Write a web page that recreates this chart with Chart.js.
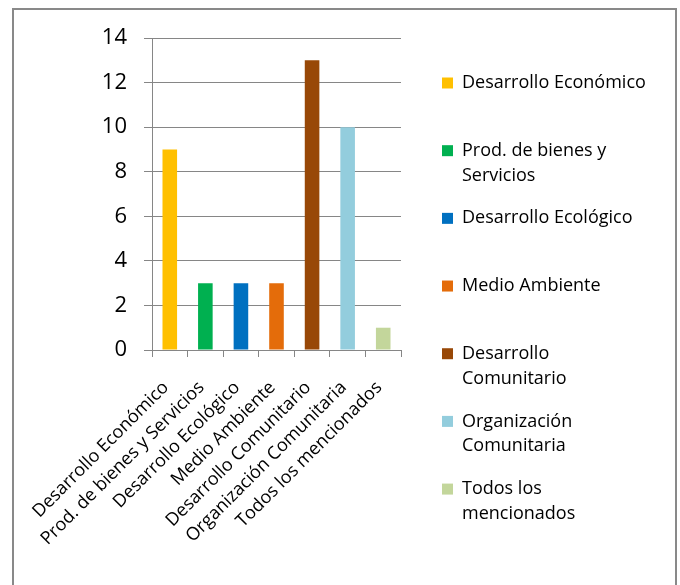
<!DOCTYPE html>
<html>
<head>
<meta charset="utf-8">
<script src="https://cdn.jsdelivr.net/npm/chart.js@4"></script>
<style>
  html, body { margin: 0; padding: 0; background: #fff; }
  #wrap { position: relative; width: 680px; height: 585px; overflow: hidden; }
  #frame { position: absolute; left: 12px; top: 8px; width: 661px; height: 640px; border: 2px solid #898989; }
  #chart { position: absolute; left: 0; top: 0; }
</style>
</head>
<body>
<div id="wrap">
  <div id="frame"></div>
  <canvas id="chart" width="680" height="585"></canvas>
</div>
<script>
const categories = ['Desarrollo Económico', 'Prod. de bienes y Servicios', 'Desarrollo Ecológico',
  'Medio Ambiente', 'Desarrollo Comunitario', 'Organización Comunitaria', 'Todos los mencionados'];
const values = [9, 3, 3, 3, 13, 10, 1];
const barColors = ['#FFC000', '#00B050', '#0070C0', '#E46C0A', '#984807', '#93CDDD', '#C3D69B'];
const legendLines = [
  ['Desarrollo Económico'],
  ['Prod. de bienes y', 'Servicios'],
  ['Desarrollo Ecológico'],
  ['Medio Ambiente'],
  ['Desarrollo', 'Comunitario'],
  ['Organización', 'Comunitaria'],
  ['Todos los', 'mencionados']
];
const yTicks = [0, 2, 4, 6, 8, 10, 12, 14];

const fontFamily = '"Open Sans", sans-serif';
const lineGray = '#868686';

// move the legend a bit right and down, like the Excel layout,
// and widen its clip box so the longest label is not cut
const legendShift = {
  id: 'legendShift',
  afterLayout(chart) {
    const l = chart.legend;
    l.left += 23; l.right += 63;
    l.top += 18; l.bottom += 18;
  }
};

const ctx = document.getElementById('chart').getContext('2d');
new Chart(ctx, {
  type: 'bar',
  data: {
    labels: categories,
    datasets: [{
      label: 'Valores',
      data: values,
      backgroundColor: barColors,
      borderWidth: 0,
      categoryPercentage: 1,
      barPercentage: 0.41
    }]
  },
  options: {
    responsive: false,
    animation: false,
    layout: { padding: { top: 38, left: 20, right: 79, bottom: 0 } },
    plugins: {
      tooltip: { enabled: false },
      legend: {
        position: 'right',
        align: 'start',
        maxWidth: 200,
        labels: {
          boxWidth: 11,
          boxHeight: 11,
          padding: 18,
          color: '#000',
          font: { family: fontFamily, size: 18, lineHeight: 1.38 },
          generateLabels: () => legendLines.map((lines, i) => ({
            text: lines.length > 1 ? lines : [lines[0], ''],
            fillStyle: barColors[i],
            strokeStyle: barColors[i],
            lineWidth: 0,
            hidden: false,
            index: i
          }))
        }
      }
    },
    scales: {
      x: {
        afterFit: scale => { scale.height = 235; },
        grid: { drawOnChartArea: false, tickLength: 7, color: lineGray, offset: true },
        border: { color: lineGray },
        ticks: {
          autoSkip: false,
          minRotation: 45,
          maxRotation: 45,
          padding: 20,
          labelOffset: -4,
          color: '#000',
          font: { family: fontFamily, size: 18 }
        }
      },
      y: {
        min: 0,
        max: 14,
        afterFit: scale => { scale.width = 132; },
        afterBuildTicks: scale => { scale.ticks = yTicks.map(v => ({ value: v })); },
        grid: { color: lineGray, tickLength: 8 },
        border: { color: lineGray },
        ticks: {
          padding: 17,
          color: '#000',
          font: { family: fontFamily, size: 22 }
        }
      }
    }
  },
  plugins: [legendShift]
});
</script>
</body>
</html>
